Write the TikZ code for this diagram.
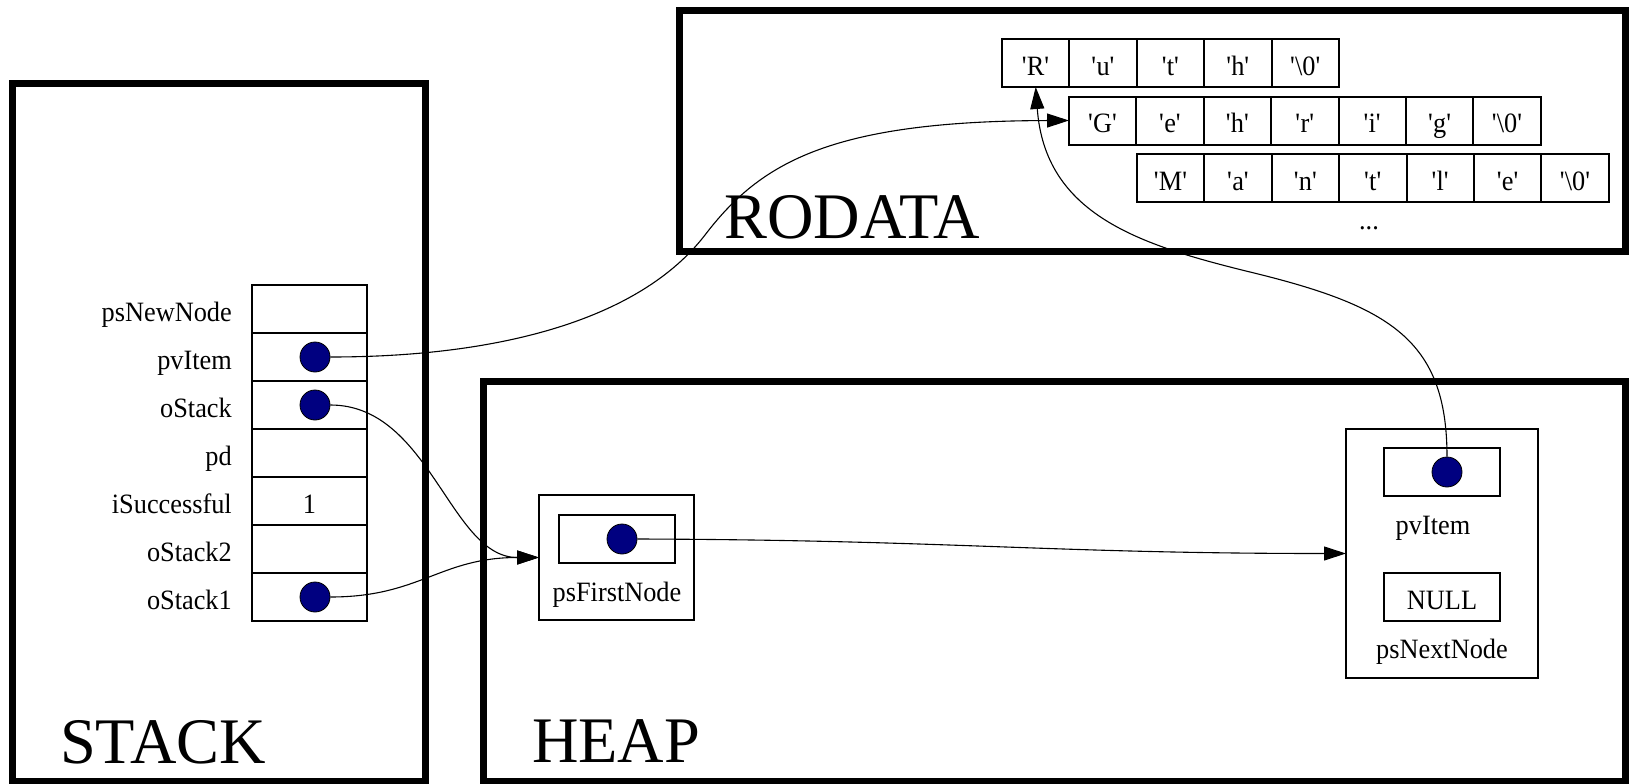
\documentclass[tikz,border=0pt]{standalone}
\usepackage{fontspec}
\setmainfont{Liberation Serif}[FakeStretch=0.94]
\newfontfamily\segfont{Liberation Serif}[FakeStretch=0.99]
\usetikzlibrary{arrows.meta,positioning}
\definecolor{dotblue}{RGB}{0,0,128}
\newcommand{\qc}[1]{\textquotesingle#1\textquotesingle}

\begin{document}
\begin{tikzpicture}[x=1pt, y=1pt, node distance=48pt,
  font=\fontsize{28}{32}\selectfont,
  frame/.style={draw, rectangle, line width=7pt, inner sep=0},
  segname/.style={inner sep=0, font=\segfont\fontsize{65}{72}\selectfont},
  cell/.style={draw, rectangle, line width=2pt, minimum width=115pt, minimum height=48pt, inner sep=0, outer sep=0, text height=24pt, text depth=0pt},
  chr/.style={draw, rectangle, line width=2pt, minimum width=67.4pt, minimum height=48pt, inner sep=0, outer sep=0, text height=24pt, text depth=0pt},
  holder/.style={draw, rectangle, line width=1.6pt, inner sep=0, outer sep=0},
  varname/.style={inner sep=0, text height=24pt, text depth=0pt},
  dot/.style={circle, draw, line width=0.8pt, fill=dotblue, minimum size=30pt, inner sep=0},
  ptr/.style={-{Triangle[length=22pt,width=14pt]}, line width=1.1pt}]
\useasboundingbox (0,0) rectangle (1630,-784);

% segments
\node (stack) [frame, minimum width=413pt, minimum height=698pt] at (218.5,-432) {};
\node (rodata) [frame, minimum width=946pt, minimum height=240pt] at (1152,-131) {};
\node (heap) [frame, minimum width=1142pt, minimum height=400pt] at (1054,-581) {};
\node (stacklbl) [segname, anchor=base west] at (60,-763) {STACK};
\node (rodatalbl) [segname, anchor=base west] at (724,-238) {RODATA};
\node (heaplbl) [segname, anchor=base west] at (532,-762) {HEAP};

% stack frame
\node (newnode) [cell] at (309.5,-309) {};
\node (item) [cell, below of=newnode] {};
\node (ostack) [cell, below of=item] {};
\node (pd) [cell, below of=ostack] {};
\node (succ) [cell, below of=pd] {1};
\node (ostack2) [cell, below of=succ] {};
\node (ostack1) [cell, below of=ostack2] {};
\node [varname, left=20pt of newnode] {psNewNode};
\node [varname, left=20pt of item] {pvItem};
\node [varname, left=20pt of ostack] {oStack};
\node [varname, left=20pt of pd] {pd};
\node [varname, left=20pt of succ] {iSuccessful};
\node [varname, left=20pt of ostack2] {oStack2};
\node [varname, left=20pt of ostack1] {oStack1};
\node (itemdot) [dot] at ([xshift=5.5pt]item.center) {};
\node (ostackdot) [dot] at ([xshift=5.5pt]ostack.center) {};
\node (ostack1dot) [dot] at ([xshift=5.5pt]ostack1.center) {};

% string literals
\node (r1) [chr] at (1035.7,-63) {\qc{R}};
\node (r2) [chr, right=0pt of r1] {\qc{u}};
\node (r3) [chr, right=0pt of r2] {\qc{t}};
\node (r4) [chr, right=0pt of r3] {\qc{h}};
\node (r5) [chr, right=0pt of r4] {\qc{\textbackslash0}};
\node (g1) [chr] at (1102.7,-120.5) {\qc{G}};
\node (g2) [chr, right=0pt of g1] {\qc{e}};
\node (g3) [chr, right=0pt of g2] {\qc{h}};
\node (g4) [chr, right=0pt of g3] {\qc{r}};
\node (g5) [chr, right=0pt of g4] {\qc{i}};
\node (g6) [chr, right=0pt of g5] {\qc{g}};
\node (g7) [chr, right=0pt of g6] {\qc{\textbackslash0}};
\node (m1) [chr] at (1170.7,-178) {\qc{M}};
\node (m2) [chr, right=0pt of m1] {\qc{a}};
\node (m3) [chr, right=0pt of m2] {\qc{n}};
\node (m4) [chr, right=0pt of m3] {\qc{t}};
\node (m5) [chr, right=0pt of m4] {\qc{l}};
\node (m6) [chr, right=0pt of m5] {\qc{e}};
\node (m7) [chr, right=0pt of m6] {\qc{\textbackslash0}};
\node (more) [inner sep=0, anchor=base] at (1369,-229) {...};

% heap nodes
\node (first) [holder, minimum width=155pt, minimum height=125pt] at (616.5,-557.5) {};
\node (firstptr) [holder, minimum width=116pt, minimum height=48pt] at (617,-539) {};
\node (firstdot) [dot] at ([xshift=5pt]firstptr.center) {};
\node (firstlbl) [varname, below=14.5pt of firstptr] {psFirstNode};
\node (next) [holder, minimum width=192pt, minimum height=249pt] at (1442,-553.5) {};
\node (nextptr) [holder, minimum width=116pt, minimum height=48pt] at (1442,-472) {};
\node (nextdot) [dot] at ([xshift=5pt]nextptr.center) {};
\node (itemlbl) [varname, below=14.5pt of nextptr, xshift=-9pt] {pvItem};
\node (null) [holder, minimum width=116pt, minimum height=48pt, text height=24pt, text depth=0pt] at (1442,-597) {NULL};
\node (nextlbl) [varname, below=13.5pt of null] {psNextNode};

% pointers
\draw[ptr] (itemdot.east) .. controls (500,-357) and (640,-319.5) .. (705,-235)
  .. controls (760,-163) and (830,-121) .. (g1.west);
\draw[ptr] (ostackdot.east) .. controls (430,-405) and (450,-557.5) .. (first.west);
\draw[ptr] (ostack1dot.east) .. controls (420,-597) and (440,-557.5) .. (first.west);
\draw[ptr] (firstdot.east) .. controls (950,-540) and (1050,-553.5) .. (next.west);
\draw[ptr] (nextdot.north) .. controls (1447,-340) and (1390,-306) .. (1250,-272)
  .. controls (1140,-245) and (1045,-215) .. (r1.south);
\end{tikzpicture}
\end{document}
